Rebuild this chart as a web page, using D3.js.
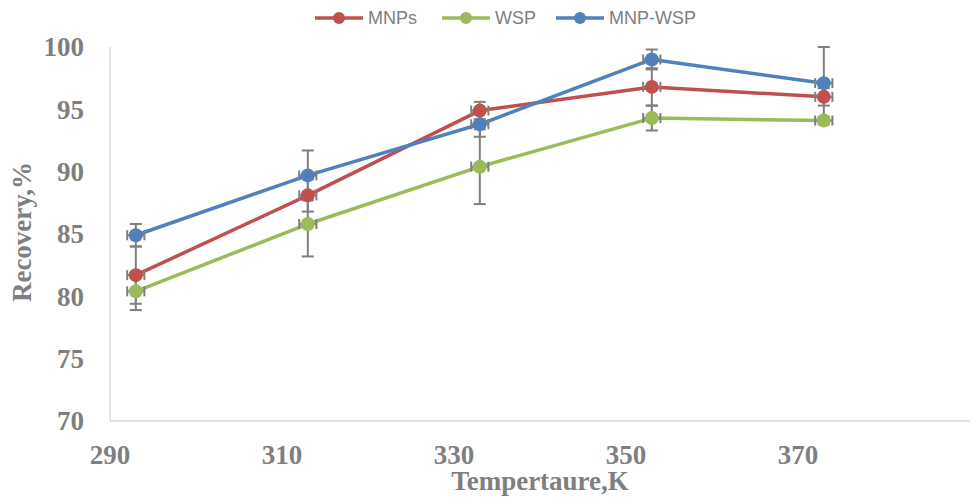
<!DOCTYPE html>
<html lang="en">
<head>
<meta charset="UTF-8">
<title>Recovery vs Temperature</title>
<script src="https://cdn.jsdelivr.net/npm/d3@7"></script>
<style>
  body { margin: 0; background: #fff; }
  svg { display: block; }
</style>
</head>
<body>
<script>
// data
const temps = [293, 313, 333, 353, 373];
const seriesNames = ["MNPs", "WSP", "MNP-WSP"];
const mnps = [81.7, 88.1, 94.9, 96.8, 96.0];
const mnpsErr = [2.3, 1.3, 0.7, 1.5, 0.7];
const wsp = [80.4, 85.8, 90.4, 94.3, 94.1];
const wspErr = [1.5, 2.6, 3.0, 1.0, 0.3];
const mnpWsp = [84.9, 89.7, 93.8, 99.0, 97.1];
const mnpWspErr = [0.9, 2.0, 1.0, 0.8, 2.9];
const tempErr = 1;
const xTicks = [290, 310, 330, 350, 370];
const yTicks = [70, 75, 80, 85, 90, 95, 100];
const colors = ["#C0504D", "#9BBB59", "#4F81BD"];

const width = 972, height = 497;
const svg = d3.select("body").append("svg")
    .attr("width", width)
    .attr("height", height);

const x = d3.scaleLinear().domain([290, 390]).range([110, 970]);
const y = d3.scaleLinear().domain([70, 100]).range([421, 47]);

const series = [
    { name: seriesNames[0], values: mnps, err: mnpsErr, color: colors[0] },
    { name: seriesNames[1], values: wsp, err: wspErr, color: colors[1] },
    { name: seriesNames[2], values: mnpWsp, err: mnpWspErr, color: colors[2] }
].map(s => ({ ...s, points: temps.map((t, i) => ({ t, v: s.values[i], e: s.err[i] })) }));

// axes: plain grey lines, labels only
const serif = "'Liberation Serif', 'Times New Roman', serif";
const grey = "#7f7f7f";

svg.append("line")
    .attr("x1", x(290)).attr("x2", x(290))
    .attr("y1", y(100)).attr("y2", y(70))
    .attr("stroke", "#d9d9d9").attr("stroke-width", 1.5);
svg.append("line")
    .attr("x1", x(290)).attr("x2", x(390))
    .attr("y1", y(70)).attr("y2", y(70))
    .attr("stroke", "#d9d9d9").attr("stroke-width", 1.5);

svg.append("g").selectAll("text")
    .data(yTicks).enter().append("text")
    .attr("x", 84).attr("y", d => y(d))
    .attr("dy", "0.35em")
    .attr("text-anchor", "end")
    .attr("font-family", serif).attr("font-weight", "bold")
    .attr("font-size", 27).attr("fill", grey)
    .text(d => d);

svg.append("g").selectAll("text")
    .data(xTicks).enter().append("text")
    .attr("x", d => x(d)).attr("y", 464)
    .attr("text-anchor", "middle")
    .attr("font-family", serif).attr("font-weight", "bold")
    .attr("font-size", 27).attr("fill", grey)
    .text(d => d);

svg.append("text")
    .attr("x", 540).attr("y", 490)
    .attr("text-anchor", "middle")
    .attr("font-family", serif).attr("font-weight", "bold")
    .attr("font-size", 27).attr("fill", grey)
    .text("Tempertaure,K");

svg.append("text")
    .attr("transform", "translate(31, 232) rotate(-90)")
    .attr("text-anchor", "middle")
    .attr("font-family", serif).attr("font-weight", "bold")
    .attr("font-size", 27).attr("fill", grey)
    .text("Recovery,%");

// lines
const line = d3.line().x(d => x(d.t)).y(d => y(d.v));
svg.append("g").selectAll("path")
    .data(series).enter().append("path")
    .attr("d", d => line(d.points))
    .attr("fill", "none")
    .attr("stroke", d => d.color)
    .attr("stroke-width", 3.5)
    .attr("stroke-linejoin", "round");

// error bars
const errG = svg.append("g")
    .attr("stroke", grey).attr("stroke-width", 2).attr("fill", "none");
series.forEach(s => {
    s.points.forEach(p => {
        const cx = x(p.t), cy = y(p.v);
        const top = y(p.v + p.e), bot = y(p.v - p.e);
        errG.append("line").attr("x1", cx).attr("x2", cx).attr("y1", top).attr("y2", bot);
        errG.append("line").attr("x1", cx - 6).attr("x2", cx + 6).attr("y1", top).attr("y2", top);
        errG.append("line").attr("x1", cx - 6).attr("x2", cx + 6).attr("y1", bot).attr("y2", bot);
        const l = x(p.t - tempErr), r = x(p.t + tempErr);
        errG.append("line").attr("x1", l).attr("x2", r).attr("y1", cy).attr("y2", cy);
        errG.append("line").attr("x1", l).attr("x2", l).attr("y1", cy - 5).attr("y2", cy + 5);
        errG.append("line").attr("x1", r).attr("x2", r).attr("y1", cy - 5).attr("y2", cy + 5);
    });
});

// markers
series.forEach(s => {
    svg.append("g").selectAll("circle")
        .data(s.points).enter().append("circle")
        .attr("cx", d => x(d.t)).attr("cy", d => y(d.v))
        .attr("r", 7)
        .attr("fill", s.color);
});

// legend
const legendX = [315, 442, 556];
const legend = svg.append("g");
series.forEach((s, i) => {
    const g = legend.append("g").attr("transform", `translate(${legendX[i]}, 18)`);
    g.append("line").attr("x1", 0).attr("x2", 48)
        .attr("stroke", s.color).attr("stroke-width", 3.5);
    g.append("circle").attr("cx", 24).attr("r", 6).attr("fill", s.color);
    g.append("text").attr("x", 53).attr("dy", "0.35em")
        .attr("font-family", "'Liberation Sans', Arial, sans-serif")
        .attr("font-size", 18).attr("fill", grey)
        .text(s.name);
});
</script>
</body>
</html>
